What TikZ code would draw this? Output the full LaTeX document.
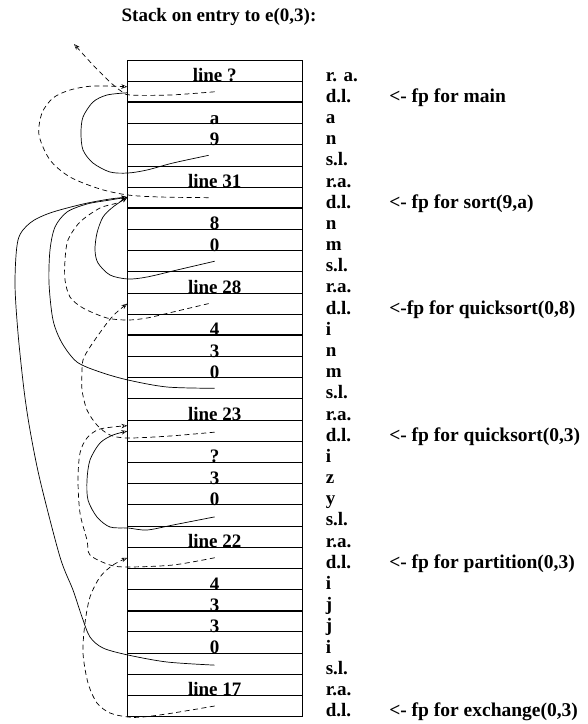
\documentclass[tikz,border=0pt]{standalone}
\usepackage{fontspec}
\setmainfont{Liberation Serif}
\usetikzlibrary{arrows.meta}
\begin{document}
\begin{tikzpicture}[x=1pt,y=-1pt,
  cell/.style={draw, line width=0.8pt, minimum width=174.7pt, minimum height=21.18pt, inner sep=0pt, outer sep=0pt},
  sepline/.style={line width=1.8pt},
  txt/.style={inner sep=0pt, font=\fontsize{19}{19}\selectfont\bfseries},
  val/.style={txt, anchor=base},
  lab/.style={txt, anchor=base west},
  note/.style={lab, font=\fontsize{19.5}{19.5}\selectfont\bfseries},
  link/.style={line width=0.7pt},
  tip/.style={-{Stealth[open,length=6pt,width=4.5pt,line width=0.5pt]}},
  dlink/.style={link, dash pattern=on 5pt off 3.5pt},
]
\useasboundingbox (0,0) rectangle (588,724);

% title
\node[txt, anchor=base] (title) at (219,21) {Stack on entry to e(0,3):};

% the 31 stack cells
\foreach \i in {1,...,31}
  \node[cell] (r\i) at (214.7,{60+(\i-0.5)*21.18}) {};

% frame boundaries
\foreach \i in {2,7,13,19,26}
  \draw[sepline] (r\i.south west) -- (r\i.south east);

% cell contents
\foreach \i/\t in {1/line ?,3/a,4/9,6/line 31,8/8,9/0,11/line 28,13/4,14/3,15/0,
                   17/line 23,19/?,20/3,21/0,23/line 22,25/4,26/3,27/3,28/0,30/line 17}
  \node[val] (v\i) at ([yshift=-0.5pt]r\i.south) {\t};

% slot names
\foreach \i/\t in {1/r. a.,2/d.l.,3/a,4/n,5/s.l.,6/r.a.,7/d.l.,8/n,9/m,10/s.l.,
                   11/r.a.,12/d.l.,13/i,14/n,15/m,16/s.l.,17/r.a.,18/d.l.,19/i,20/z,
                   21/y,22/s.l.,23/r.a.,24/d.l.,25/i,26/j,27/j,28/i,29/s.l.,30/r.a.,31/d.l.}
  \node[lab] (l\i) at ([xshift=23.5pt]r\i.south east) {\t};

% frame pointer notes
\foreach \i/\t in {2/{<- fp for main},7/{<- fp for sort(9,a)},12/{<-fp for quicksort(0,8)},
                   18/{<- fp for quicksort(0,3)},24/{<- fp for partition(0,3)},31/{<- fp for exchange(0,3)}}
  \node[note] (fp\i) at ([xshift=87pt]r\i.south east) {\t};

% link origins and targets
\coordinate (d2) at (r2.center);
\coordinate (d7) at ([xshift=-6pt]r7.center);
\coordinate (d12) at ([xshift=-6pt]r12.center);
\coordinate (d18) at ([yshift=-1.5pt]r18.center);
\coordinate (d24) at (r24.center);
\coordinate (d31) at (r31.center);
\coordinate (s5) at ([xshift=-6pt]r5.center);
\coordinate (s10) at (r10.center);
\coordinate (s16) at (r16.center);
\coordinate (s22) at ([yshift=-1.5pt]r22.center);
\coordinate (s29) at ([yshift=-1.5pt]r29.center);
\coordinate (t2) at ([yshift=5pt]r2.west);
\coordinate (t2s) at ([yshift=-1pt]r2.west);
\coordinate (t7) at ([yshift=0.5pt]r7.west);
\coordinate (t12) at (r12.west);
\coordinate (t18) at ([yshift=5pt]r18.west);
\coordinate (t18s) at ([yshift=-0.5pt]r18.west);
\coordinate (t24) at (r24.west);
\coordinate (up) at (74,44);

% dynamic links
\draw[dlink,tip] plot[smooth] coordinates {(d2) (170,95) (130,95) (121,91) (110,82) (93,65) (up)};
\draw[dlink,tip] plot[smooth] coordinates {(d7) (160,197) (128,195) (100,189) (70,177) (50,160)
  (39,135) (42,113) (53,98) (70,90) (93,86) (t2)};
\draw[dlink,tip] plot[smooth] coordinates {(d12) (173,312) (147,318) (128,320) (107,318) (83,308)
  (70,297) (65,280) (65,260) (68,240) (80,222) (100,208) (117,203) (t7)};
\draw[dlink,tip] plot[smooth] coordinates {(d18) (170,436) (128,438) (110,435) (97,425) (87,410)
  (82,390) (82,373) (83,360) (90,347) (107,323) (117,312) (t12)};
\draw[dlink,tip] plot[smooth] coordinates {(d24) (173,565) (128,567) (110,565) (90,555) (87,540)
  (80,513) (78,480) (80,453) (87,438) (100,429) (t18)};
\draw[dlink,tip] plot[smooth] coordinates {(d31) (173,713) (143,717) (128,717) (110,713) (97,703)
  (88,683) (83,653) (85,623) (90,597) (100,577) (113,565) (t24)};

% static links
\draw[link] plot[smooth] coordinates {(s5) (173,163) (147,170) (128,173) (110,172) (93,163)
  (83,150) (81,133) (83,117) (93,102) (107,95) (t2s)};
\draw[link,tip] plot[smooth] coordinates {(s10) (177,270) (147,277) (128,279) (110,275) (98,263)
  (95,250) (97,233) (103,217) (113,207) (t7)};
\draw[link,tip] plot[smooth] coordinates {(s16) (167,387) (128,380) (100,372) (77,362) (62,343)
  (53,320) (49,283) (50,250) (55,227) (67,212) (87,204) (110,200) (t7)};
\draw[link,tip] plot[smooth] coordinates {(s22) (173,525) (147,530) (128,528) (110,527) (97,517)
  (88,500) (87,480) (90,460) (100,443) (113,435) (t18s)};
\draw[link,tip] plot[smooth] coordinates {(s29) (167,662) (128,655) (103,648) (90,637) (82,617)
  (73,590) (60,557) (40,480) (30,430) (24,390) (18,333) (15,283) (18,240) (30,223) (50,213)
  (83,204) (110,199) (t7)};
\end{tikzpicture}
\end{document}
